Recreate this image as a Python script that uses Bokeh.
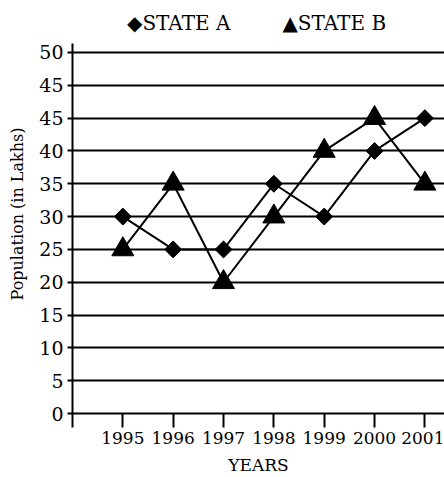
from bokeh.plotting import figure
from bokeh.models import Range1d, FixedTicker, Legend, LegendItem
from bokeh.embed import file_html
from bokeh.resources import INLINE
import math

years = [1995, 1996, 1997, 1998, 1999, 2000, 2001]
state_a = [30, 25, 25, 35, 30, 40, 45]
state_b = [25, 35, 20, 30, 40, 45, 35]
y_tick_values = [0, 5, 10, 15, 20, 25, 30, 35, 40, 45, 50, 55]
y_tick_labels = ["0", "5", "10", "15", "20", "25", "30", "35", "40", "45", "45", "50"]
x_tick_labels = ["1995", "1996", "1997", "1998", "1999", "2000", "2001"]
legend_labels = ["\u25c6STATE A", "\u25b2STATE B"]

FONT = "DejaVu Serif"
Y_AXIS_BOUNDS = (-2.13, 56.37)

p = figure(width=444, height=477, output_backend="svg", toolbar_location=None,
           x_range=Range1d(1994, 2001.39), y_range=Range1d(-2.13, 62.92),
           min_border_left=72, min_border_right=0, min_border_top=0, min_border_bottom=50)
p.title.visible = False
p.outline_line_color = None
p.background_fill_color = "white"

# grid
p.xgrid.visible = False
p.ygrid.ticker = FixedTicker(ticks=y_tick_values)
p.ygrid.grid_line_color = "black"
p.ygrid.grid_line_width = 2
p.ygrid.grid_line_alpha = 1

# y axis
p.yaxis.bounds = Y_AXIS_BOUNDS
p.yaxis.ticker = FixedTicker(ticks=y_tick_values)
p.yaxis.major_label_overrides = {v: l for v, l in zip(y_tick_values, y_tick_labels)}
p.yaxis.major_label_text_font = FONT
p.yaxis.major_label_text_font_size = "19px"
p.yaxis.major_label_text_color = "black"
p.yaxis.major_label_standoff = 4
p.yaxis.major_tick_out = 5
p.yaxis.major_tick_in = 0
p.yaxis.major_tick_line_width = 2
p.yaxis.minor_tick_line_color = None
p.yaxis.axis_line_width = 2
p.yaxis.axis_line_color = "black"
p.yaxis.axis_label = "Population (in Lakhs)"
p.yaxis.axis_label_text_font = FONT
p.yaxis.axis_label_text_font_style = "normal"
p.yaxis.axis_label_text_font_size = "16px"
p.yaxis.axis_label_text_color = "black"
p.yaxis.axis_label_standoff = 9

# x axis
p.xaxis.ticker = FixedTicker(ticks=years)
p.xaxis.major_label_overrides = {y: l for y, l in zip(years, x_tick_labels)}
p.xaxis.major_label_text_font = FONT
p.xaxis.major_label_text_font_size = "17px"
p.xaxis.major_label_text_color = "black"
p.xaxis.major_label_standoff = 4
p.xaxis.major_tick_in = 14
p.xaxis.major_tick_out = 0
p.xaxis.major_tick_line_width = 2
p.xaxis.minor_tick_line_color = None
p.xaxis.axis_line_color = None
p.xaxis.axis_label = "YEARS"
p.xaxis.axis_label_text_font = FONT
p.xaxis.axis_label_text_font_style = "normal"
p.xaxis.axis_label_text_font_size = "17px"
p.xaxis.axis_label_text_color = "black"
p.xaxis.axis_label_standoff = 8

# series
p.line(years, state_a, line_color="black", line_width=2)
p.line(years, state_b, line_color="black", line_width=2)
ra = p.scatter(years, state_a, marker="square", size=12, angle=math.pi / 4,
               fill_color="black", line_color="black")
rb = p.scatter(years, state_b, marker="triangle", size=22,
               fill_color="black", line_color="black")

legend = Legend(items=[LegendItem(label=legend_labels[0], renderers=[ra]),
                       LegendItem(label=legend_labels[1], renderers=[rb])],
                orientation="horizontal", location=(55, 392),
                padding=0, margin=0, spacing=52, label_standoff=0,
                glyph_width=0, glyph_height=20,
                label_text_font=FONT, label_text_font_size="20px",
                label_text_color="black",
                border_line_color=None, background_fill_alpha=0)
p.add_layout(legend, "center")

open("out.html", "w").write(file_html(p, INLINE))
